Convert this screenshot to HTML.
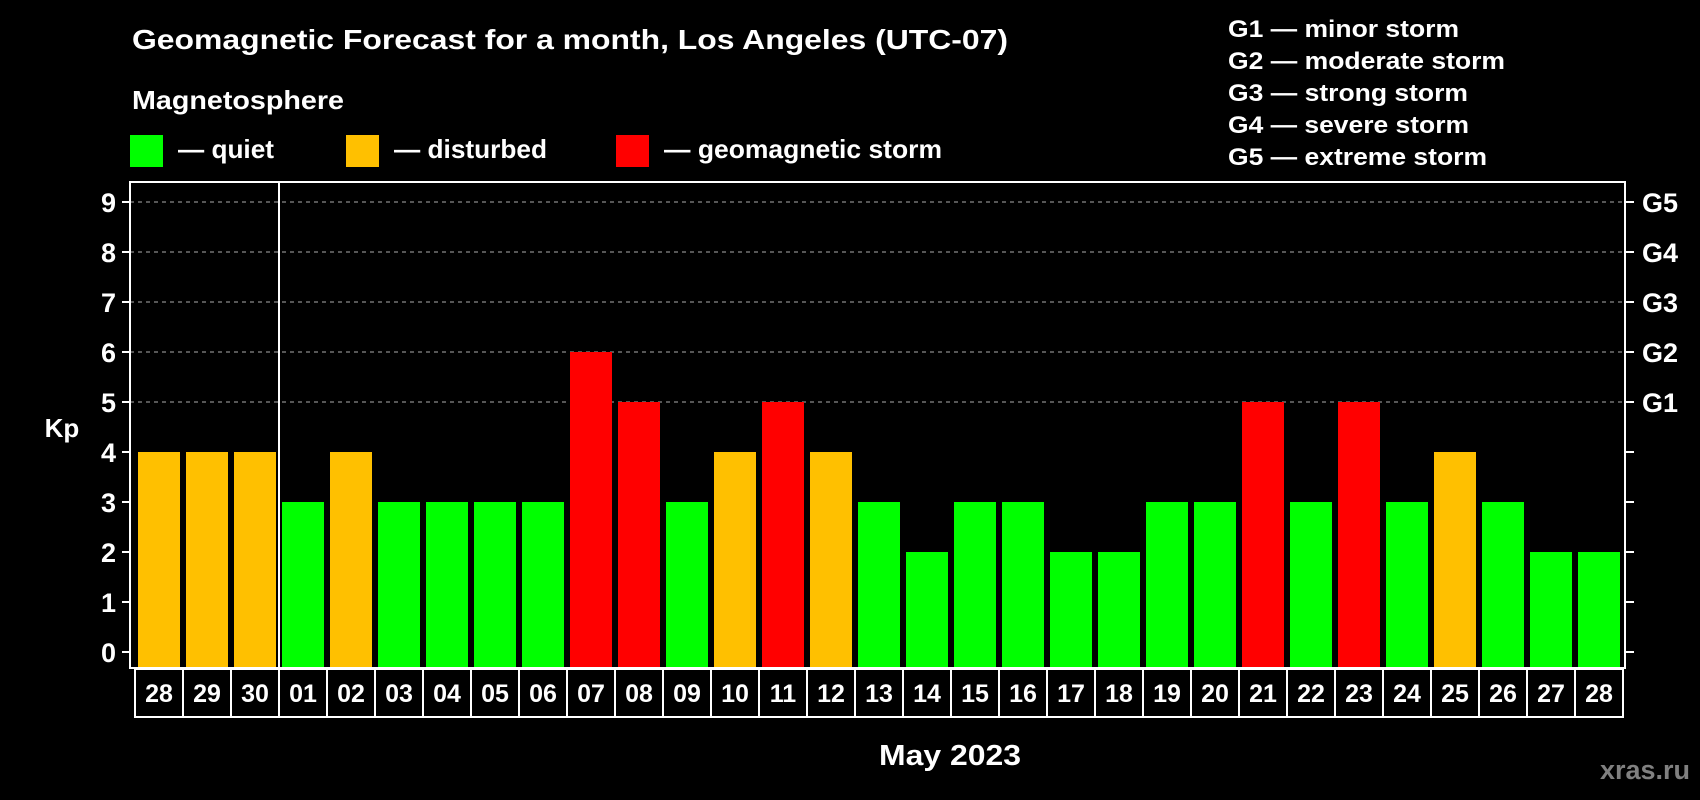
<!DOCTYPE html>
<html><head><meta charset="utf-8"><style>
html,body{margin:0;padding:0;background:#000;}
svg{display:block;font-family:"Liberation Sans",Arial,sans-serif;font-weight:bold;}
</style></head><body>
<svg id="chart" width="1700" height="800" viewBox="0 0 1700 800">
<rect x="0" y="0" width="1700" height="800" fill="#000"/>
<text x="132" y="49" fill="#fff" font-size="28" textLength="876" lengthAdjust="spacingAndGlyphs">Geomagnetic Forecast for a month, Los Angeles (UTC-07)</text>
<text x="132" y="109" fill="#fff" font-size="26" textLength="212" lengthAdjust="spacingAndGlyphs">Magnetosphere</text>
<g>
<rect x="130" y="135" width="33" height="32" fill="#00ff00"/>
<text x="178" y="158" fill="#fff" font-size="26" textLength="96" lengthAdjust="spacingAndGlyphs">— quiet</text></g>
<g>
<rect x="346" y="135" width="33" height="32" fill="#ffc000"/>
<text x="394" y="158" fill="#fff" font-size="26" textLength="153" lengthAdjust="spacingAndGlyphs">— disturbed</text></g>
<g>
<rect x="616" y="135" width="33" height="32" fill="#ff0000"/>
<text x="664" y="158" fill="#fff" font-size="26" textLength="278" lengthAdjust="spacingAndGlyphs">— geomagnetic storm</text></g>
<g fill="#fff" font-size="24">
<text x="1228" y="37" textLength="231" lengthAdjust="spacingAndGlyphs">G1 — minor storm</text>
<text x="1228" y="69" textLength="277" lengthAdjust="spacingAndGlyphs">G2 — moderate storm</text>
<text x="1228" y="101" textLength="240" lengthAdjust="spacingAndGlyphs">G3 — strong storm</text>
<text x="1228" y="133" textLength="241" lengthAdjust="spacingAndGlyphs">G4 — severe storm</text>
<text x="1228" y="165" textLength="259" lengthAdjust="spacingAndGlyphs">G5 — extreme storm</text>
</g>
<g id="grid"></g><g id="bars"></g><g id="axes"></g><g id="days"></g>
<text x="62" y="437" fill="#fff" font-size="26" text-anchor="middle">Kp</text>
<text x="950" y="765" fill="#fff" font-size="29" text-anchor="middle" textLength="142" lengthAdjust="spacingAndGlyphs">May 2023</text>
<text x="1690" y="779" fill="#808080" font-size="27" text-anchor="end">xras.ru</text>
</svg>
<script>
const days = ["28","29","30","01","02","03","04","05","06","07","08","09","10","11","12","13","14","15","16","17","18","19","20","21","22","23","24","25","26","27","28"];
const kpValues = [4,4,4,3,4,3,3,3,3,6,5,3,4,5,4,3,2,3,3,2,2,3,3,5,3,5,3,4,3,2,2];
const yTicks = [0,1,2,3,4,5,6,7,8,9];
const gLabels = ["G1","G2","G3","G4","G5"];
const gLevels = [5,6,7,8,9];

const NS = "http://www.w3.org/2000/svg";
const PL = 130, PR = 1625, PT = 182, PB = 668;
const Y0 = 652, UNIT = 50;
const PITCH = 48;
function yScale(v){ return Y0 - v*UNIT; }
function xSlot(i){ return 135 + i*PITCH; }
function mk(tag, attrs, parent){ const e=document.createElementNS(NS,tag); for(const k in attrs) e.setAttribute(k,attrs[k]); parent.appendChild(e); return e; }
function color(v){ return v>=5 ? "#ff0000" : (v>=4 ? "#ffc000" : "#00ff00"); }

const grid=document.getElementById('grid'), bars=document.getElementById('bars'), axes=document.getElementById('axes'), dayG=document.getElementById('days');

gLevels.forEach((lv)=>{
  const l = mk('line',{x1:PL,x2:PR,y1:yScale(lv),y2:yScale(lv),stroke:'#8a8a8a','stroke-width':1.2,'stroke-dasharray':'4 4'},grid);
  
  
});

kpValues.forEach((v,i)=>{
  const r = mk('rect',{x:xSlot(i)+3,y:yScale(v),width:42,height:PB-yScale(v),fill:color(v)},bars);
  
  
});

const frame = mk('rect',{x:PL,y:PT,width:PR-PL,height:PB-PT,fill:'none',stroke:'#fff','stroke-width':2},axes);


const sep = mk('line',{x1:xSlot(3),x2:xSlot(3),y1:PT,y2:PB,stroke:'#fff','stroke-width':2},axes);



yTicks.forEach((t)=>{
  const y=yScale(t);
  const tl = mk('line',{x1:122,x2:PL,y1:y,y2:y,stroke:'#fff','stroke-width':2},axes);
  
  
  const tr = mk('line',{x1:PR,x2:PR+9,y1:y,y2:y,stroke:'#fff','stroke-width':2},axes);
  
  
  const tx = mk('text',{x:116,y:y+10,fill:'#fff','font-size':27,'text-anchor':'end'},axes);
  tx.textContent=t;
  
  
});
gLevels.forEach((lv,i)=>{
  const tx = mk('text',{x:1642,y:yScale(lv)+10,fill:'#fff','font-size':27},axes);
  tx.textContent=gLabels[i];
  
  
});

days.forEach((d,i)=>{
  const b = mk('rect',{x:xSlot(i),y:PB+1,width:PITCH,height:48,fill:'none',stroke:'#fff','stroke-width':2},dayG);
  
  
  const t = mk('text',{x:xSlot(i)+PITCH/2,y:702,fill:'#fff','font-size':25,'text-anchor':'middle'},dayG);
  t.textContent=d;
  
  
});
</script>
</body></html>
